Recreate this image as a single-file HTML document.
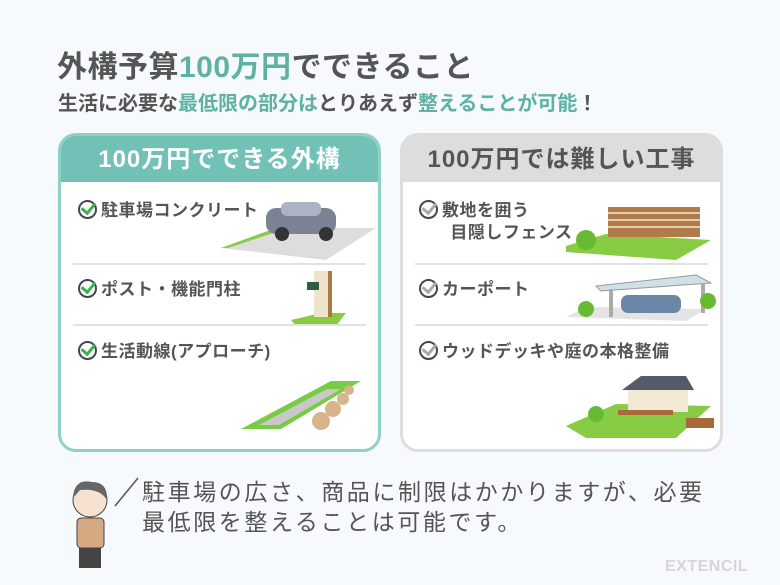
<!DOCTYPE html>
<html><head><meta charset="utf-8"><style>
*{margin:0;padding:0;box-sizing:border-box}
body{width:780px;height:585px;background:#f6fafd;font-family:"Liberation Sans","Noto Sans CJK JP",sans-serif;color:#555;position:relative;overflow:hidden}
.abs{position:absolute}
.t1{left:57px;top:42px;font-size:30px;font-weight:bold;color:#555;letter-spacing:0.5px;white-space:nowrap}
.t2{left:58px;top:87px;font-size:20px;font-weight:bold;color:#555;white-space:nowrap}
.g{color:#5fb1a6}
.card{position:absolute;top:133px;width:323px;height:319px;border-radius:18px;background:#fff;overflow:hidden}
.hd{height:46px;font-size:24px;font-weight:bold;text-align:center;line-height:48px;letter-spacing:1px;white-space:nowrap}
.it{position:absolute;font-size:17px;font-weight:bold;color:#555;line-height:22px;letter-spacing:0.5px;white-space:nowrap}
.ck{display:inline-block;width:19px;height:19px;border:2px solid #445;border-radius:50%;vertical-align:-3px;margin-right:4px;position:relative}
.ck:after{content:"";position:absolute;left:4px;top:-2px;width:6px;height:11px;border-right:3px solid #3cb34a;border-bottom:3px solid #3cb34a;transform:rotate(40deg)}
.ck.gr:after{border-color:#aaa}
.dv{position:absolute;left:12px;right:12px;height:2px;background:#e2e2e2}
</style></head><body>
<div class="abs t1">外構予算<span class="g">100万円</span>でできること</div>
<div class="abs t2">生活に必要な<span class="g">最低限の部分は</span>とりあえず<span class="g">整えることが可能</span>！</div>

<div class="card" style="left:58px;border:3px solid #8fd0c7">
 <div class="hd" style="background:#72c1b7;color:#fff">100万円でできる外構</div>
 <div class="it" style="left:17px;top:64px"><span class="ck"></span>駐車場コンクリート</div>
 <svg class="abs" style="left:155px;top:62px" width="170" height="62"><polygon points="5,50 60,30 160,30 110,62" fill="#ddd"/><polygon points="5,50 60,30 60,34 12,50" fill="#8c4"/><rect x="50" y="10" width="70" height="26" rx="10" fill="#7a8294"/><rect x="65" y="4" width="40" height="14" rx="6" fill="#aab4c4"/><circle cx="66" cy="36" r="7" fill="#333"/><circle cx="110" cy="36" r="7" fill="#333"/></svg>
 <div class="dv" style="top:127px"></div>
 <div class="it" style="left:17px;top:143px"><span class="ck"></span>ポスト・機能門柱</div>
 <svg class="abs" style="left:230px;top:132px" width="70" height="58"><polygon points="0,52 30,45 55,45 45,58 5,58" fill="#8c4"/><rect x="23" y="3" width="14" height="46" fill="#eee3cc"/><rect x="37" y="3" width="4" height="46" fill="#a77a40"/><rect x="16" y="14" width="12" height="8" fill="#2e5c45"/></svg>
 <div class="dv" style="top:188px"></div>
 <div class="it" style="left:17px;top:205px"><span class="ck"></span>生活動線(アプローチ)</div>
 <svg class="abs" style="left:180px;top:245px" width="130" height="50"><polygon points="0,48 90,0 120,0 40,48" fill="#7c4"/><polygon points="18,44 86,8 100,8 38,44" fill="#c8c8c8"/><circle cx="80" cy="40" r="9" fill="#d8b48a"/><circle cx="92" cy="28" r="8" fill="#d8b48a"/><circle cx="102" cy="18" r="6" fill="#d8b48a"/><circle cx="108" cy="9" r="5" fill="#d8b48a"/></svg>
</div>

<div class="card" style="left:400px;border:3px solid #ddd">
 <div class="hd" style="background:#dddddd;color:#555">100万円では難しい工事</div>
 <div class="it" style="left:16px;top:64px"><span class="ck gr"></span>敷地を囲う<br>&nbsp;&nbsp;&nbsp;&nbsp;&nbsp;&nbsp;目隠しフェンス</div>
 <svg class="abs" style="left:163px;top:68px" width="150" height="56"><polygon points="0,42 40,30 145,36 110,56 0,48" fill="#8c4"/><rect x="42" y="3" width="92" height="30" fill="#b07a4a"/><g stroke="#e6cfae" stroke-width="2"><line x1="42" y1="9" x2="134" y2="9"/><line x1="42" y1="16" x2="134" y2="16"/><line x1="42" y1="23" x2="134" y2="23"/></g><circle cx="20" cy="36" r="10" fill="#6b3"/></svg>
 <div class="dv" style="top:127px"></div>
 <div class="it" style="left:16px;top:143px"><span class="ck gr"></span>カーポート</div>
 <svg class="abs" style="left:163px;top:135px" width="150" height="50"><polygon points="0,46 20,36 140,38 120,50" fill="#e4e4e4"/><polygon points="30,15 130,4 145,12 35,20" fill="#cfe0e8" stroke="#999"/><rect x="43" y="18" width="4" height="28" fill="#aaa"/><rect x="135" y="12" width="4" height="30" fill="#aaa"/><rect x="55" y="24" width="60" height="18" rx="7" fill="#6a87a8"/><circle cx="20" cy="38" r="8" fill="#6b3"/><circle cx="142" cy="30" r="8" fill="#6b3"/></svg>
 <div class="dv" style="top:188px"></div>
 <div class="it" style="left:16px;top:205px"><span class="ck gr"></span>ウッドデッキや庭の本格整備</div>
 <svg class="abs" style="left:163px;top:240px" width="150" height="62"><polygon points="0,50 50,28 145,30 110,62 20,62" fill="#8c4"/><rect x="62" y="12" width="60" height="24" fill="#f1e8d6"/><polygon points="56,14 75,0 120,0 128,14" fill="#555a66"/><rect x="52" y="34" width="55" height="5" fill="#a86a3a"/><rect x="120" y="42" width="28" height="10" fill="#a86a3a"/><circle cx="30" cy="38" r="8" fill="#6b3"/></svg>
</div>

<svg class="abs" style="left:60px;top:474px" width="80" height="100"><line x1="55" y1="32" x2="78" y2="4" stroke="#555" stroke-width="1.5"/><circle cx="30" cy="26" r="17" fill="#f7e1d0" stroke="#444"/><path d="M13,24 Q14,4 32,8 Q48,8 47,26 Q40,14 20,16 Z" fill="#666"/><rect x="17" y="44" width="27" height="30" rx="4" fill="#d7a982" stroke="#444"/><rect x="19" y="74" width="22" height="20" fill="#444"/></svg>
<div class="abs" style="left:142px;top:477px;font-size:23px;line-height:30px;letter-spacing:2.6px;color:#555;white-space:nowrap">駐車場の広さ、商品に制限はかかりますが、必要<br>最低限を整えることは可能です。</div>
<div class="abs" style="left:665px;top:558px;font-size:16px;font-weight:bold;color:#d6d6d6;letter-spacing:0.5px">EXTENCIL</div>
</body></html>
